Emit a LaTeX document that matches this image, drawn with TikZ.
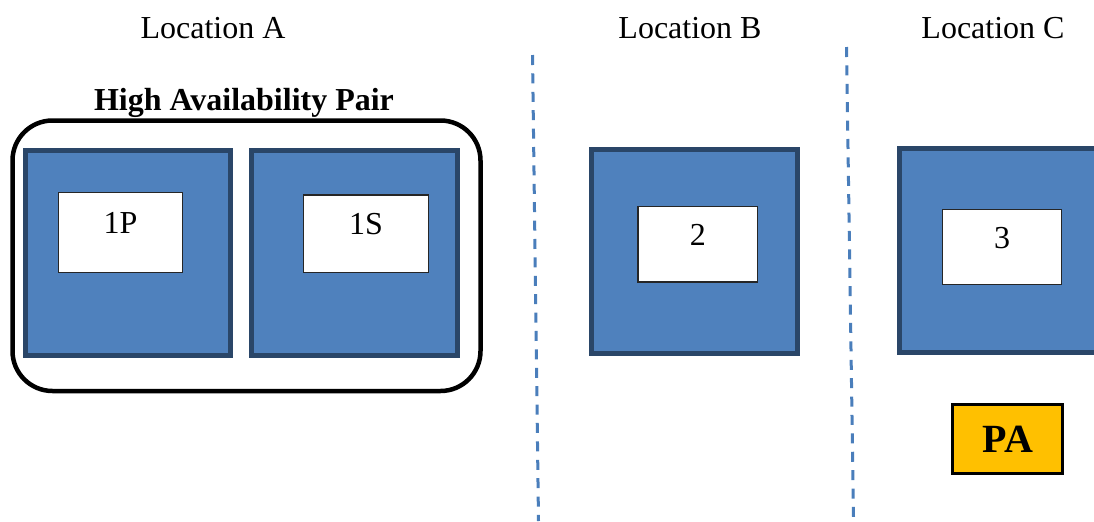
\documentclass[tikz,border=0pt]{standalone}
\usepackage{fontspec}
\setmainfont{Liberation Serif}
\definecolor{siteblue}{HTML}{4F81BD}
\definecolor{siteedge}{HTML}{2A4668}
\definecolor{sepblue}{HTML}{4A7EBB}
\definecolor{pagold}{HTML}{FFC000}

\begin{document}
\begin{tikzpicture}[x=0.5pt,y=-0.5pt]
		\tikzstyle{every node}+=[inner sep=0pt]
		\tikzstyle{site}=[draw=siteedge, fill=siteblue, line width=2.5pt, minimum width=102.8pt, minimum height=102.2pt]
		\tikzstyle{unit}=[draw=black!85, fill=white, line width=0.7pt, font=\fontsize{16}{19}\selectfont, text height=11pt, text depth=9.9pt]
		\tikzstyle{loc}=[anchor=base, font=\fontsize{16}{19}\selectfont]
		\tikzstyle{sep}=[draw=sepblue, line width=1.5pt, dash pattern=on 5pt off 4.2pt]
		\useasboundingbox (0,0) rectangle (1094,521);
		\node [loc] (locA) at (213,38) {Location A};
		\node [loc] (locB) at (690,38) {Location B};
		\node [loc] (locC) at (993,38) {Location C};
		\node [loc, font=\fontsize{16}{19}\selectfont\bfseries] (hapairtitle) at (244,110) {High Availability Pair};
		\node [draw=black, line width=2.25pt, rounded corners=20pt, minimum width=234pt, minimum height=135.25pt] (hapair) at (246.5,255.75) {};
		\node [site] (siteA1) at (128,253) {};
		\node [site] (siteA2) at (354.7,253) {};
		\node [site] (siteB) at (694.3,251.7) {};
		\node [site] (siteC) at (1002.3,250.5) {};
		\node [unit, minimum width=62.1pt, minimum height=40.1pt] (u1p) at (120.5,232.5) {1P};
		\node [unit, minimum width=62.45pt, minimum height=38.8pt] (u1s) at (365.9,233.8) {1S};
		\node [unit, minimum width=59.8pt, minimum height=37.65pt] (u2) at (697.8,244.3) {2};
		\node [unit, minimum width=59.6pt, minimum height=37.45pt] (u3) at (1002,247.2) {3};
		\node [draw=black, fill=pagold, line width=1.5pt, minimum width=55.2pt, minimum height=34.7pt, font=\fontsize{20}{24}\selectfont\bfseries] (pa) at (1007.7,438.8) {PA};
		\coordinate (cutAB1) at (532.5,55);
		\coordinate (cutAB2) at (538.5,521);
		\coordinate (cutBC1) at (846.5,47);
		\coordinate (cutBC2) at (853.5,517);
		\draw [sep] (cutAB1) -- (cutAB2);
		\draw [sep] (cutBC1) -- (cutBC2);
	\end{tikzpicture}
\end{document}
